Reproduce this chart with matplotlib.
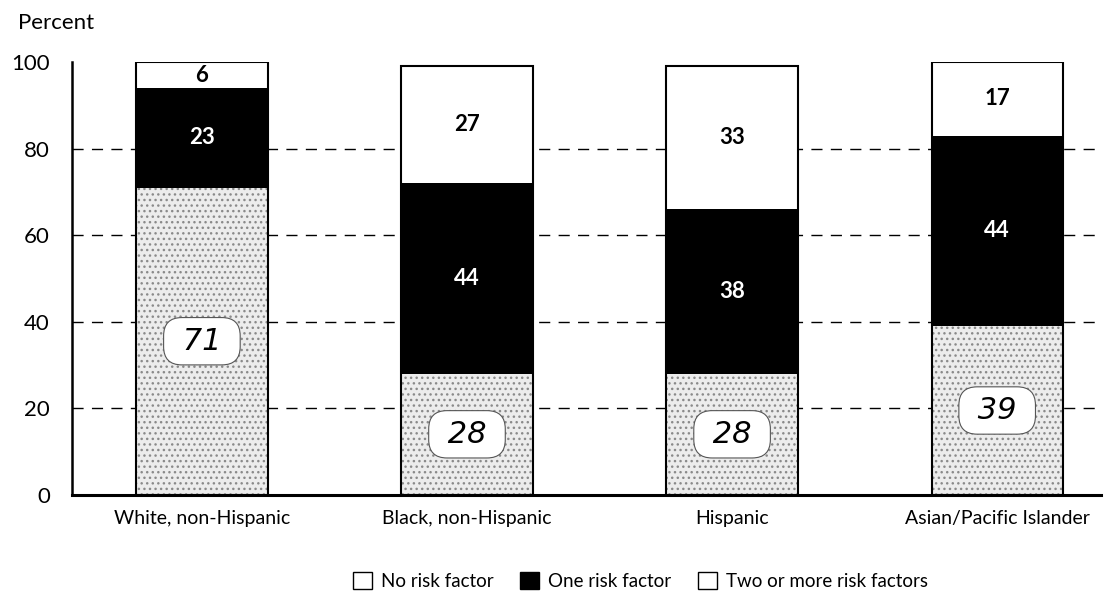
import matplotlib.pyplot as plt
from matplotlib.patches import Patch

# data
groups = ['White, non-Hispanic', 'Black, non-Hispanic', 'Hispanic', 'Asian/Pacific Islander']
no_risk = [71, 28, 28, 39]
one_risk = [23, 44, 38, 44]
two_plus = [6, 27, 33, 17]
yticks = [0, 20, 40, 60, 80, 100]

plt.rcParams['font.family'] = ['Lato', 'DejaVu Sans']

fig = plt.figure(figsize=(11.18, 6.08), dpi=100)
ax = fig.add_axes([0.0644, 0.186, 0.92, 0.712])

x = list(range(len(groups)))
w = 0.495

# grid behind the bars
for yv in yticks[1:-1]:
    ax.axhline(yv, color='black', lw=1, ls=(0, (8, 6)), zorder=0)

# speckled bottom segment
ax.bar(x, no_risk, w, color='#ececec', hatch='...', edgecolor='#8a8a8a', lw=0, zorder=2)
bottom2 = [a + b for a, b in zip(no_risk, one_risk)]
ax.bar(x, one_risk, w, bottom=no_risk, color='black', lw=0, zorder=2)
ax.bar(x, two_plus, w, bottom=bottom2, color='white', lw=0, zorder=2)
totals = [a + b for a, b in zip(bottom2, two_plus)]
ax.bar(x, totals, w, fill=False, edgecolor='black', lw=1.5, zorder=3)

for i in x:
    ax.text(i, no_risk[i] / 2, ' ' + str(no_risk[i]) + ' ', ha='center', va='center',
            fontsize=22, fontstyle='italic', family=['DejaVu Sans'], zorder=4,
            bbox=dict(boxstyle='round,pad=0.3,rounding_size=0.6', fc='white', ec='#555555', lw=0.8))
    ax.text(i, no_risk[i] + one_risk[i] / 2, str(one_risk[i]), ha='center', va='center',
            fontsize=16, color='white', fontweight='bold', zorder=4)
    ax.text(i, bottom2[i] + two_plus[i] / 2, str(two_plus[i]), ha='center', va='center',
            fontsize=16, color='black', fontweight='bold', zorder=4)

ax.set_xlim(-0.49, 3.39)
ax.set_ylim(0, 100)
ax.set_yticks(yticks)
ax.set_yticklabels([str(v) for v in yticks], fontsize=16)
ax.set_xticks(x)
ax.set_xticklabels(groups, fontsize=14)
ax.tick_params(axis='x', length=0, pad=11)
ax.tick_params(axis='y', length=0, pad=16)
ax.spines['top'].set_visible(False)
ax.spines['right'].set_visible(False)
ax.spines['left'].set_linewidth(1.8)
ax.spines['bottom'].set_linewidth(2.2)

fig.text(0.016, 0.962, 'Percent', fontsize=16, ha='left', va='center')

handles = [Patch(facecolor='white', edgecolor='black', lw=1),
           Patch(facecolor='black', edgecolor='black', lw=1),
           Patch(facecolor='white', edgecolor='black', lw=1)]
fig.legend(handles, ['No risk factor', 'One risk factor', 'Two or more risk factors'],
           loc='center', bbox_to_anchor=(0.573, 0.045), ncol=3, frameon=False,
           fontsize=13.5, handlelength=1.0, handleheight=1.0, columnspacing=1.4, handletextpad=0.5)

fig.savefig('out.png', dpi=100)
